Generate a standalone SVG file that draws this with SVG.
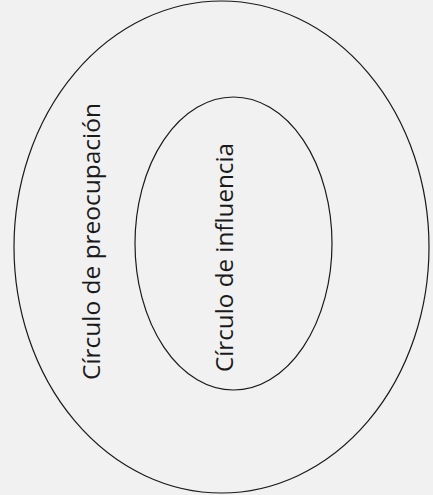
<svg xmlns="http://www.w3.org/2000/svg" width="433" height="495" viewBox="0 0 433 495">
<style>
.ring{fill:none;stroke:#1a1a1a;stroke-width:1.2}
.lbl{font-family:"Open Sans","Liberation Sans",sans-serif;font-size:23px;fill:#1a1a1a;text-anchor:middle}
</style>
<rect width="433" height="495" fill="#f1f1f1"/>
<g id="circulo-preocupacion">
<ellipse class="ring" cx="221.5" cy="247" rx="207.5" ry="246"/>
<text class="lbl" transform="translate(100 241.5) rotate(-90)" textLength="277" lengthAdjust="spacingAndGlyphs">Círculo de preocupación</text>
</g>
<g id="circulo-influencia">
<ellipse class="ring" cx="233.5" cy="243.5" rx="98.5" ry="146.5"/>
<text class="lbl" transform="translate(232.5 257.5) rotate(-90)" textLength="229" lengthAdjust="spacingAndGlyphs">Círculo de influencia</text>
</g>
<g id="connectors"/>
</svg>
